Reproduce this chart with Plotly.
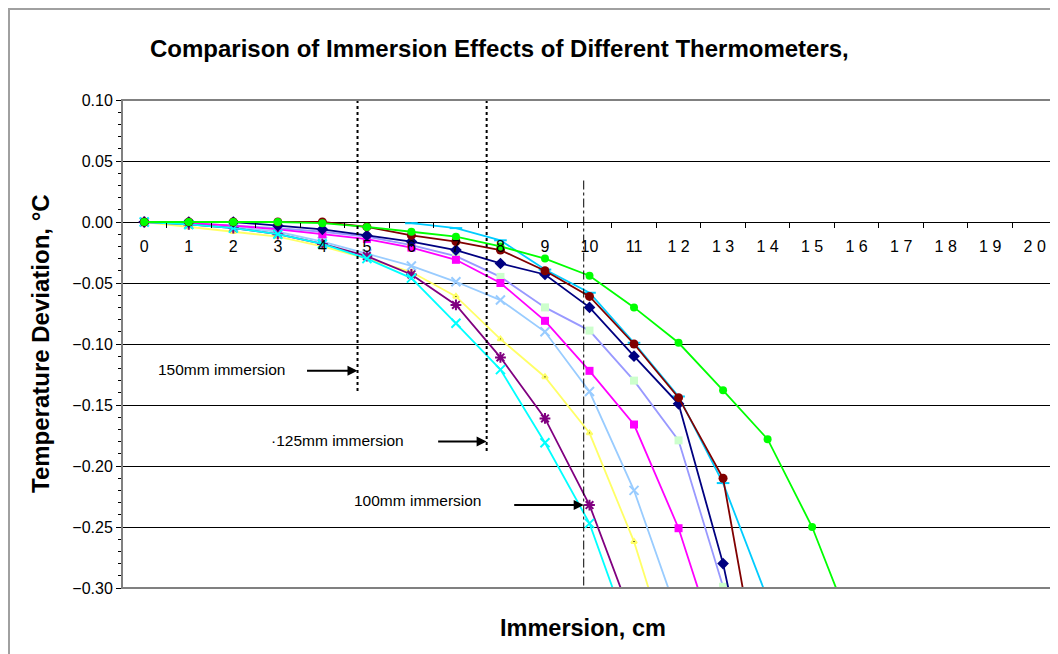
import plotly.graph_objects as go

# immersion positions (cm) and tick labels as printed on the chart
immersion = list(range(0, 21))
tick_text = ["0", "1", "2", "3", "4", "5", "6", "7", "8", "9", "10", "11",
             "1 2", "1 3", "1 4", "1 5", "1 6", "1 7", "1 8", "1 9", "2 0"]

# temperature deviation readings, degC (None = no reading)
lavender = [0.0, -0.001, -0.003, -0.005, -0.008, -0.012, -0.019, -0.028, -0.045, -0.070,
            -0.089, -0.130, -0.179, -0.299, -0.45]
light_blue = [0.0, -0.002, -0.004, -0.008, -0.016, -0.026, -0.036, -0.049, -0.064, -0.090,
              -0.139, -0.220, -0.324]
sky_blue = [None, None, None, None, None, None, -0.001, -0.005, -0.015, -0.039,
            -0.058, -0.099, -0.143, -0.214, -0.309]
magenta = [0.0, -0.001, -0.003, -0.006, -0.010, -0.014, -0.021, -0.031, -0.050, -0.081,
           -0.122, -0.166, -0.251, -0.364]
yellow = [0.0, -0.004, -0.008, -0.012, -0.020, -0.030, -0.041, -0.061, -0.096, -0.127,
          -0.173, -0.262, -0.379]
purple = [0.0, -0.002, -0.005, -0.010, -0.018, -0.028, -0.043, -0.068, -0.111, -0.161,
          -0.232, -0.329]
cyan = [0.0, -0.002, -0.005, -0.010, -0.018, -0.030, -0.046, -0.083, -0.121, -0.181,
        -0.247, -0.349]
navy = [0.0, 0.0, 0.0, -0.003, -0.006, -0.011, -0.016, -0.023, -0.034, -0.043,
        -0.070, -0.110, -0.149, -0.280, -0.45]
dark_red = [0.0, 0.0, 0.0, 0.0, 0.0, -0.004, -0.011, -0.016, -0.023, -0.040,
            -0.061, -0.100, -0.144, -0.210, -0.414]
green = [0.0, 0.0, 0.0, 0.0, -0.001, -0.004, -0.008, -0.012, -0.020, -0.030,
         -0.044, -0.070, -0.099, -0.138, -0.178, -0.250, -0.343]

# immersion depth markers: (x, y_top, y_bottom)
depth_lines = [(4.79, 0.10, -0.140), (7.69, 0.10, -0.190), (9.87, 0.034, -0.30)]
# (label, label x, label y, arrow head x, arrow head y, arrow length px)
depth_labels = [("150mm immersion", 0.27, -0.1205, 4.79, -0.122, 52),
                ("\u00b7125mm immersion", 2.81, -0.179, 7.69, -0.180, 50),
                ("100mm immersion", 4.67, -0.228, 9.87, -0.232, 71)]

FONT = "Liberation Sans, Arial, sans-serif"

series = [
    (lavender, "#9999FF", dict(symbol="square", size=8, color="#CCFFCC")),
    (light_blue, "#99CCFF", dict(symbol="x-thin-open", size=9, line=dict(width=2, color="#99CCFF"))),
    (sky_blue, "#00CCFF", dict(symbol="line-ew-open", size=9, line=dict(width=2, color="#00CCFF"))),
    (magenta, "#FF00FF", dict(symbol="square", size=8, color="#FF00FF")),
    (yellow, "#FFFF66", dict(symbol="triangle-up", size=5, color="black", line=dict(width=2, color="#FFFF66"))),
    (purple, "#800080", dict(symbol="asterisk-open", size=9, line=dict(width=2, color="#800080"))),
    (cyan, "#00FFFF", dict(symbol="x-thin-open", size=9, line=dict(width=2, color="#00FFFF"))),
    (navy, "#000080", dict(symbol="diamond", size=9, color="#000080")),
    (dark_red, "#800000", dict(symbol="circle", size=9, color="#800000")),
    (green, "#00FF00", dict(symbol="circle", size=8, color="#00FF00")),
]

fig = go.Figure()
for values, color, marker in series:
    fig.add_trace(go.Scatter(
        x=immersion[:len(values)], y=values, mode="lines+markers",
        line=dict(color=color, width=1.8), marker=marker,
        connectgaps=False, showlegend=False, cliponaxis=True,
    ))

for x, y0, y1 in depth_lines[:2]:
    fig.add_shape(type="line", x0=x, x1=x, y0=y0, y1=y1,
                  line=dict(color="black", width=2, dash="dot"))
x, y0, y1 = depth_lines[2]
fig.add_shape(type="line", x0=x, x1=x, y0=y0, y1=y1,
              line=dict(color="black", width=1, dash="dashdot"))

for text, tx, ty, hx, hy, length in depth_labels:
    fig.add_annotation(x=tx, y=ty, text=text, showarrow=False, xanchor="left",
                       font=dict(family=FONT, size=15.5, color="black"))
    fig.add_annotation(x=hx, y=hy, ax=-length, ay=0, text="", showarrow=True,
                       arrowhead=2, arrowsize=1, arrowwidth=2, arrowcolor="black")

# plot area border and outer chart border
fig.add_shape(type="rect", xref="paper", yref="paper", x0=0, x1=1, y0=0, y1=1,
              line=dict(color="#808080", width=2), layer="above")
fig.add_shape(type="rect", xref="paper", yref="paper",
              x0=-113 / 935, x1=1.2, y0=-0.3, y1=1 + 91 / 488,
              line=dict(color="#a0a0a0", width=2))

fig.add_annotation(xref="paper", yref="paper", x=(148 - 122) / 935, y=1 + (100 - 48) / 488,
                   text="<b>Comparison of Immersion Effects of Different Thermometers,</b>",
                   showarrow=False, xanchor="left", yanchor="middle",
                   font=dict(family=FONT, size=24, color="black"))
fig.add_annotation(xref="paper", yref="paper", x=(583 - 122) / 935, y=-(628 - 588) / 488,
                   text="<b>Immersion, cm</b>", showarrow=False, yanchor="middle",
                   font=dict(family=FONT, size=23.5, color="black"))
fig.add_annotation(xref="paper", yref="paper", x=-(122 - 40) / 935, y=0.5,
                   text="<b>Temperature Deviation, \u00b0C</b>", showarrow=False, textangle=-90,
                   xanchor="center", yanchor="middle",
                   font=dict(family=FONT, size=24, color="black"))

fig.update_xaxes(
    range=[-0.5, 20.5], showgrid=False, zeroline=False, showline=False,
    anchor="free", position=0.75,
    tickvals=immersion, ticktext=tick_text,
    ticks="outside", ticklen=5, tickcolor="rgba(0,0,0,0)", ticklabelstandoff=5,
    tickfont=dict(family=FONT, size=16, color="black"),
    minor=dict(tick0=0.5, dtick=1, ticks="outside", ticklen=5, tickcolor="black", showgrid=False),
)
fig.update_yaxes(
    range=[-0.30, 0.10], dtick=0.05, tickformat=".2f",
    showgrid=True, gridcolor="black", gridwidth=1, zeroline=False,
    showline=True, linecolor="black", linewidth=1,
    ticks="outside", ticklen=5, tickcolor="black",
    tickfont=dict(family=FONT, size=16, color="black"),
    minor=dict(dtick=0.01, ticks="outside", ticklen=3, tickcolor="black", showgrid=False),
)
# the page body adds an 8px margin, so the figure is 8px smaller and shifted
fig.update_layout(
    width=1050, height=646,
    margin=dict(l=114, r=1, t=92, b=66),
    paper_bgcolor="white", plot_bgcolor="white",
    font=dict(family=FONT, color="black"),
    showlegend=False,
)

fig.write_html("out.html")
